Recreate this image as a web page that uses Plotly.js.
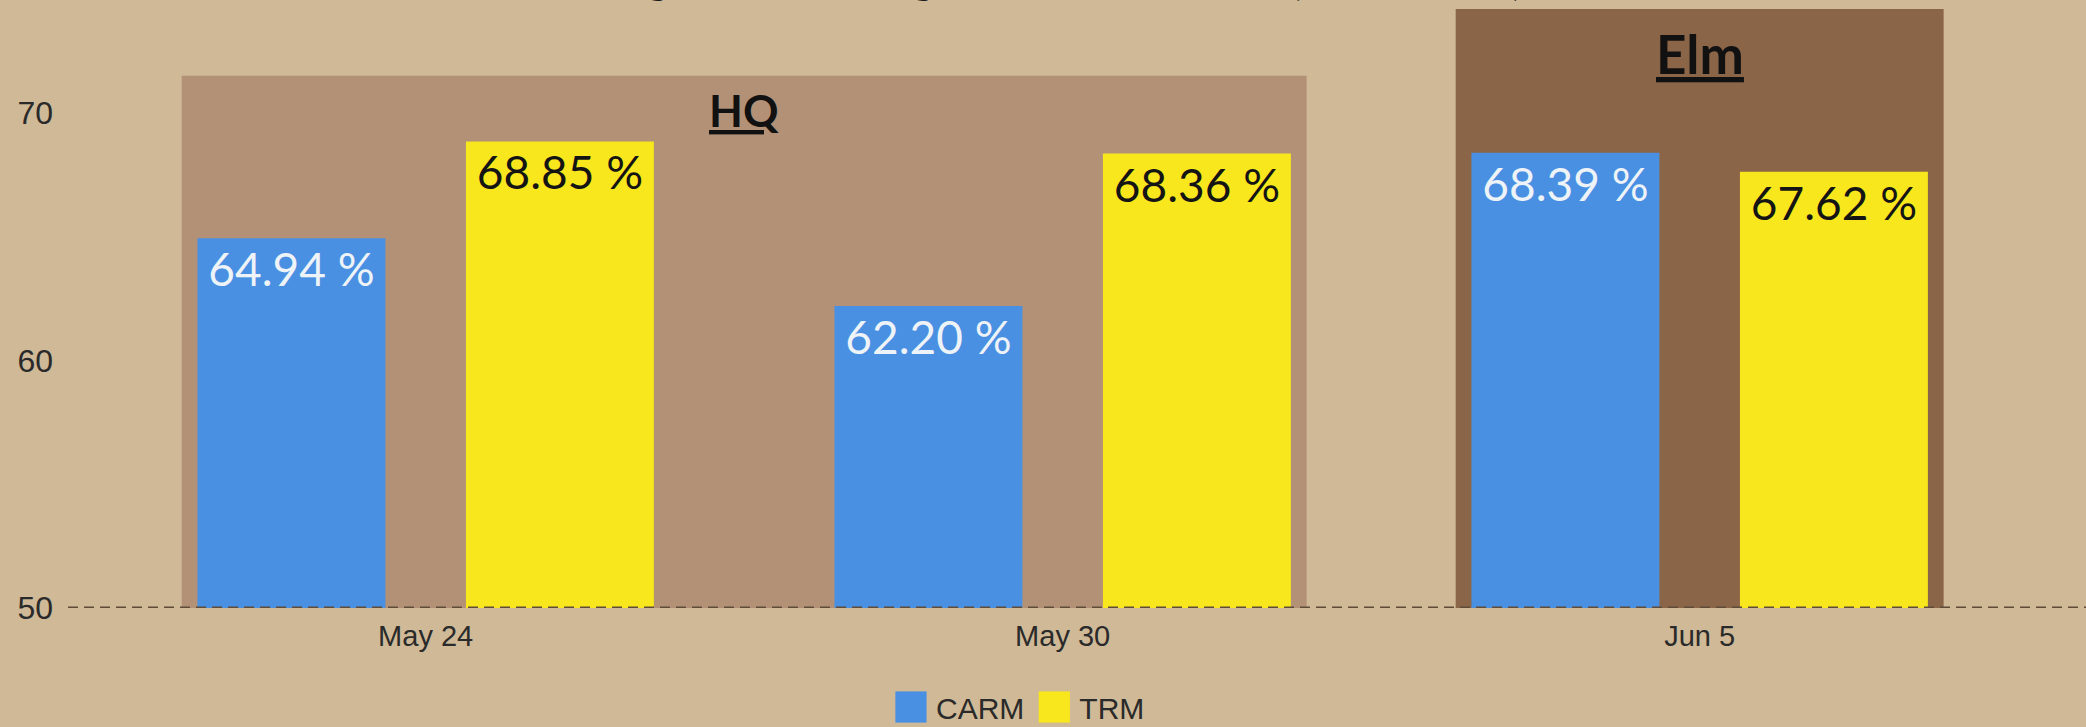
<!DOCTYPE html>
<html><head><meta charset="utf-8">
<script src="https://cdn.plot.ly/plotly-3.0.1.min.js"></script>
<style>html,body{margin:0;padding:0;background:#CFB997;} #chart{width:2086px;height:727px;}</style>
</head><body><div id="chart"></div>
<script>
// ---- data ----
const categories = ['May 24', 'May 30', 'Jun 5'];
const seriesNames = ['CARM', 'TRM'];
const carmValues = [64.94, 62.20, 68.39];
const trmValues = [68.85, 68.36, 67.62];
const yTickVals = [50, 60, 70];
const yTickText = ['50', '60', '70'];
const groupNames = ['HQ', 'Elm'];
const groupFirstCat = [0, 2];
const groupLastCat = [1, 2];
const groupTops = [71.5, 74.2];
const chartTitle = 'Billing Rate Percentage across HQ and Elm (Clinical Staff)';

// ---- styles ----
const BG = '#CFB997';
const groupColors = ['#B39177', '#8B6548'];
const barColors = ['#4A90E2', '#F8E71C'];
const textColors = ['#EEF3F8', '#141414'];
const HALF = 0.383;

const traces = [carmValues, trmValues].map((vals, i) => ({
  type: 'bar',
  name: seriesNames[i],
  x: categories,
  y: vals,
  marker: {color: barColors[i], line: {width: 0}},
  texttemplate: '%{y:.2f} %',
  textposition: 'inside',
  insidetextanchor: 'end',
  textangle: 0,
  textfont: {family: 'Lato', size: 46, color: textColors[i]},
  constraintext: 'none',
  hoverinfo: 'skip'
}));

const shapes = groupNames.map((g, i) => ({
  type: 'rect', layer: 'below', xref: 'x', yref: 'y',
  x0: groupFirstCat[i] - HALF, x1: groupLastCat[i] + HALF,
  y0: yTickVals[0], y1: groupTops[i],
  fillcolor: groupColors[i], line: {width: 0}
}));
shapes.push({
  type: 'line', layer: 'above', xref: 'paper', yref: 'y',
  x0: 0, x1: 1, y0: yTickVals[0], y1: yTickVals[0],
  line: {color: '#5E4B38', width: 3, dash: '10px,6px'}
});

const labelOffsets = [1.4, 1.8];
const labelSizes = [44, 53];
const annotations = groupNames.map((g, i) => ({
  xref: 'x', yref: 'y',
  x: (groupFirstCat[i] + groupLastCat[i]) / 2,
  y: groupTops[i] - labelOffsets[i],
  yanchor: 'middle', xanchor: 'center',
  text: '<u>' + g + '</u>', showarrow: false,
  font: {family: 'Lato', size: labelSizes[i], color: '#111111', weight: 'bold'}
}));

const layout = {
  width: 2086, height: 727,
  paper_bgcolor: BG, plot_bgcolor: BG,
  margin: {l: 68, r: 0, t: 9, b: 119, pad: 0},
  title: {
    text: chartTitle, x: 0.5, xref: 'container', xanchor: 'center',
    y: 1, yref: 'container', yanchor: 'bottom', pad: {b: 5, t: 0},
    font: {family: 'Lato', size: 38, color: '#1a1a1a', weight: 'bold'}
  },
  barmode: 'group', bargap: 0.157, bargroupgap: 0.30,
  xaxis: {
    type: 'category', range: [-0.5615, 2.6065], showgrid: false, zeroline: false,
    showline: false, ticks: '', ticklabelstandoff: 8,
    tickfont: {family: 'Liberation Sans', size: 29, color: '#2a2a2a'}
  },
  yaxis: {
    range: [50, 74.2], tickvals: yTickVals, ticktext: yTickText,
    showgrid: false, zeroline: false, showline: false, ticks: '', ticklabelstandoff: 14,
    tickfont: {family: 'Liberation Sans', size: 32, color: '#2a2a2a'}
  },
  showlegend: true,
  legend: {
    orientation: 'h', xref: 'container', yref: 'container',
    x: 0.488, xanchor: 'center', y: 0.0275, yanchor: 'middle',
    itemwidth: 40,
    bgcolor: 'rgba(0,0,0,0)', font: {family: 'Liberation Sans', size: 30, color: '#2a2a2a'},
    itemclick: false, itemdoubleclick: false
  },
  shapes: shapes,
  annotations: annotations
};

Plotly.newPlot('chart', traces, layout, {displayModeBar: false, staticPlot: true}).then(gd => {
  gd.querySelectorAll('.legend .legendpoints path').forEach(p => {
    const t = p.getAttribute('transform') || '';
    p.setAttribute('transform', t + ' scale(2.6)');
  });
});
</script>
</body></html>
